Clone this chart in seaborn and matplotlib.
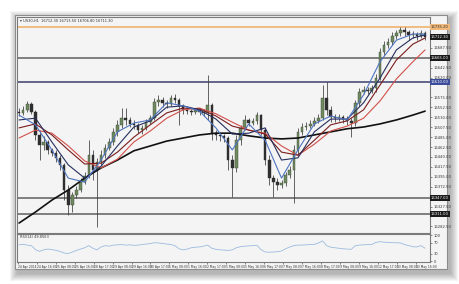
import numpy as np
import pandas as pd
import matplotlib
matplotlib.use("Agg")
import matplotlib.pyplot as plt
import matplotlib.transforms as mtransforms
from matplotlib.patches import Rectangle
import seaborn as sns

# ---------------- data ----------------
opens = [16542,16540,16547,16560,16542,16490,16467,16474,16456,16449,
         16438,16422,16365,16331,16354,16365,16383,16397,16445,16410,
         16429,16445,16460,16474,16497,16513,16528,16524,16515,16513,
         16501,16506,16519,16528,16565,16569,16562,16560,16574,16569,
         16556,16547,16544,16542,16547,16542,16540,16558,16494,16490,
         16488,16483,16433,16415,16478,16506,16524,16517,16522,16535,
         16501,16433,16392,16383,16376,16381,16399,16410,16456,16497,
         16508,16510,16515,16522,16528,16574,16547,16531,16528,16531,
         16526,16522,16517,16562,16587,16592,16590,16597,16619,16678,
         16694,16701,16715,16721,16728,16724,16717,16719,16715,16721]
closes = [16540,16547,16560,16542,16490,16467,16474,16456,16449,16438,
          16422,16365,16331,16354,16365,16383,16397,16445,16410,16429,
          16445,16460,16474,16497,16513,16528,16524,16515,16513,16501,
          16506,16519,16528,16565,16569,16562,16560,16574,16569,16556,
          16547,16544,16542,16547,16542,16540,16558,16494,16490,16488,
          16483,16433,16415,16478,16506,16524,16517,16522,16535,16501,
          16433,16392,16383,16376,16381,16399,16410,16456,16497,16508,
          16510,16515,16522,16528,16574,16547,16531,16528,16531,16526,
          16522,16517,16562,16587,16592,16590,16597,16619,16678,16694,
          16701,16715,16721,16728,16724,16717,16719,16715,16721,16712]
highs = [16551,16556,16567,16565,16547,16501,16488,16478,16460,16456,
         16445,16426,16376,16360,16374,16392,16406,16479,16456,16438,
         16456,16469,16483,16506,16524,16551,16551,16531,16524,16517,
         16513,16526,16535,16574,16581,16576,16569,16581,16583,16574,
         16560,16551,16549,16551,16551,16549,16626,16562,16501,16497,
         16492,16488,16444,16490,16513,16535,16528,16528,16542,16538,
         16506,16444,16399,16392,16388,16406,16420,16467,16506,16517,
         16519,16524,16531,16538,16603,16610,16556,16538,16538,16535,
         16533,16528,16569,16597,16601,16599,16603,16628,16687,16703,
         16710,16724,16728,16735,16735,16728,16726,16724,16728,16726]
lows = [16533,16535,16542,16538,16478,16433,16456,16447,16442,16429,
        16410,16342,16308,16315,16347,16360,16379,16392,16388,16281,
        16422,16438,16456,16467,16488,16506,16513,16508,16503,16494,
        16492,16501,16515,16524,16556,16553,16551,16556,16562,16513,
        16538,16538,16535,16538,16535,16533,16524,16478,16478,16476,
        16474,16410,16349,16406,16467,16501,16510,16513,16515,16490,
        16422,16376,16349,16365,16370,16374,16392,16336,16444,16490,
        16501,16506,16510,16517,16524,16535,16519,16519,16522,16517,
        16513,16485,16510,16556,16583,16583,16585,16587,16615,16671,
        16687,16694,16708,16715,16715,16706,16710,16706,16710,16706]

# moving averages sampled at these bars
ma_bars = [0,4,8,12,16,20,24,28,32,36,40,44,48,52,56,60,64,68,72,76,80,84,88,92,96,99]
ma_blue = [16535,16513,16456,16392,16383,16433,16497,16517,16524,16563,16556,16544,16506,
           16456,16515,16478,16392,16456,16515,16533,16524,16581,16656,16705,16719,16719]
ma_navy = [16524,16528,16474,16422,16392,16419,16465,16508,16522,16553,16556,16547,16526,
           16492,16494,16506,16433,16438,16497,16526,16526,16563,16619,16683,16710,16717]
ma_darkred = [16506,16515,16490,16456,16424,16426,16451,16485,16513,16540,16551,16549,16533,
              16510,16501,16492,16451,16444,16478,16513,16522,16547,16603,16660,16696,16710]
ma_red = [16483,16501,16494,16465,16431,16415,16435,16474,16499,16528,16547,16551,16538,
          16519,16501,16494,16465,16444,16469,16499,16510,16528,16567,16617,16656,16683]
ma_black = [16290,16315,16342,16365,16392,16415,16433,16454,16465,16476,16483,16490,16494,
            16494,16488,16483,16481,16483,16490,16497,16504,16508,16515,16524,16535,16544]

rsi = [63,65,62,60,45,38,44,47,45,42,
       38,32,30,36,42,47,52,60,50,44,
       55,60,58,62,63,64,62,63,61,62,
       64,66,68,71,70,68,66,64,60,48,
       44,47,52,54,55,58,62,50,46,44,
       43,42,44,52,56,58,59,60,61,45,
       36,35,36,37,40,48,55,60,62,62,
       63,64,65,70,78,60,54,52,50,48,
       47,46,60,62,63,64,64,72,75,73,
       72,71,71,70,64,60,56,55,60,50]

level_orange = 16735.2
levels_gray = [16665.0, 16347.0, 16311.0]
level_blue = 16610.0
current_price = 16712.3

price_ticks = [16687.5, 16642.5, 16620.0, 16575.0,
               16552.5, 16530.0, 16507.5, 16485.0, 16462.5, 16440.0, 16417.5, 16395.0,
               16372.5, 16327.5, 16282.5]
rsi_ticks = [100, 70, 30, 0]
date_labels = ["24 Apr 2014", "24 Apr 16:00", "25 Apr 08:00", "25 Apr 16:00", "28 Apr 17:00",
               "29 Apr 08:00", "29 Apr 16:00", "30 Apr 17:00", "1 May 08:00", "1 May 16:00",
               "2 May 17:00", "5 May 08:00", "5 May 16:00", "6 May 17:00", "7 May 08:00",
               "7 May 16:00", "8 May 17:00", "9 May 08:00", "9 May 16:00", "12 May 17:00",
               "13 May 08:00", "13 May 16:00"]
title_text = "\u25be US30,H1  16712.30 16713.50 16706.80 16711.30"
rsi_text = "RSI(14) 49.8563"

# ---------------- figure ----------------
sns.set_theme(style="white")
plt.rcParams['font.family'] = ['DejaVu Sans']
W, H = 460, 284
fig = plt.figure(figsize=(W / 100, H / 100), dpi=100)
fig.patch.set_facecolor("white")

def fx(px):
    return px / W

def fy(py):
    return 1 - py / H

# soft shadow around the window
for d in range(8, 0, -1):
    fig.patches.append(Rectangle((fx(15 - d + 3), fy(269 + d + 4)),
                                 fx(432 + 2 * d), (254 + 2 * d) / H,
                                 transform=fig.transFigure, facecolor="black",
                                 edgecolor="none", alpha=0.04, zorder=-3))
fig.patches.append(Rectangle((fx(15), fy(269)), fx(432), 254 / H, transform=fig.transFigure,
                             facecolor="#f4f4f4", edgecolor="#8c8c8c", lw=0.8, zorder=-2))

bg = "#f4f4f4"
ax = fig.add_axes([fx(17), fy(233), fx(413), 216 / H])
axr = fig.add_axes([fx(17), fy(262), fx(413), 28 / H], sharex=ax)
for a in (ax, axr):
    a.set_facecolor(bg)
    a.set_zorder(1)
    for s in a.spines.values():
        s.set_color("#7a7a7a")
        s.set_linewidth(0.8)

x = np.arange(len(closes))
o = np.array(opens); c = np.array(closes); hi = np.array(highs); lo = np.array(lows)
up = c >= o
ax.vlines(x, lo, hi, color="#3c3c3c", lw=0.55, zorder=3)
ax.bar(x[up], (c - o)[up], bottom=o[up], width=0.62, color="#6f8a5f",
       edgecolor="#3c4a34", lw=0.3, zorder=4)
ax.bar(x[~up], (o - c)[~up], bottom=c[~up], width=0.62, color="#2e2e2e",
       edgecolor="#2e2e2e", lw=0.3, zorder=4)

ma_df = pd.DataFrame({
    "bar": ma_bars * 5,
    "price": ma_black + ma_red + ma_darkred + ma_navy + ma_blue,
    "ma": ["black"] * 26 + ["red"] * 26 + ["darkred"] * 26 + ["navy"] * 26 + ["blue"] * 26,
})
palette = {"black": "#111111", "red": "#d2504a", "darkred": "#7a1c1c",
           "navy": "#26305e", "blue": "#4f74c0"}
sizes = {"black": 1.2, "red": 0.8, "darkred": 0.8, "navy": 0.8, "blue": 0.8}
sns.lineplot(data=ma_df, x="bar", y="price", hue="ma", palette=palette, size="ma",
             sizes=sizes, ax=ax, legend=False, zorder=5, estimator=None, sort=False)

# horizontal levels
ax.axhline(level_orange, color="#f0b87a", lw=1.3, zorder=2)
for lv in levels_gray:
    ax.axhline(lv, color="#6a6a6a", lw=1.2, zorder=2)
ax.axhline(level_blue, color="#4a4e78", lw=1.2, zorder=2)

ax.set_xlim(-0.5, 100.2)
ax.set_ylim(16796.3 - 2.27 * 233, 16796.3 - 2.27 * 17)
ax.yaxis.tick_right()
ax.set_yticks(price_ticks)
ax.set_yticklabels([f"{v:.2f}" for v in price_ticks])
ax.tick_params(axis="y", labelsize=2.7, length=1.5, width=0.4, pad=1,
               colors="#333333", right=True)
ax.tick_params(axis="x", bottom=False, labelbottom=False)
ax.set_xlabel(""); ax.set_ylabel("")

trans = mtransforms.blended_transform_factory(ax.transAxes, ax.transData)
def box(val, fc, tc="white"):
    ax.text(1.002, val, f"{val:.2f}", transform=trans, ha="left", va="center",
            fontsize=2.7, color=tc, zorder=10, clip_on=False,
            bbox=dict(boxstyle="square,pad=0.25", facecolor=fc, edgecolor="none"))
box(level_orange, "#f0b87a", "#333333")
box(current_price, "#1a1a1a")
for lv in levels_gray:
    box(lv, "#1a1a1a")
box(level_blue, "#3c4c9a")

ax.text(0.008, 0.992, title_text, transform=ax.transAxes, ha="left", va="top",
        fontsize=2.6, color="#333333")

# RSI pane
rsi_df = pd.DataFrame({"bar": x, "rsi": rsi})
sns.lineplot(data=rsi_df, x="bar", y="rsi", ax=axr, color="#9bbbe0", lw=0.6)
axr.set_ylim(-2, 104)
axr.yaxis.tick_right()
axr.set_yticks(rsi_ticks)
axr.set_yticklabels([str(v) for v in rsi_ticks])
axr.tick_params(axis="y", labelsize=2.6, length=1.5, width=0.4, pad=1,
                colors="#333333", right=True)
axr.set_xlabel(""); axr.set_ylabel("")
axr.text(0.008, 0.95, rsi_text, transform=axr.transAxes, ha="left", va="top",
         fontsize=2.5, color="#333333")

tick_pos = np.arange(len(date_labels)) * 4.62 - 0.3
axr.set_xticks(tick_pos)
axr.set_xticklabels(date_labels, ha="left")
axr.tick_params(axis="x", labelsize=2.15, length=1.5, width=0.4, pad=1,
                colors="#333333", bottom=True)

fig.savefig("out.png", dpi=100, facecolor="white")
